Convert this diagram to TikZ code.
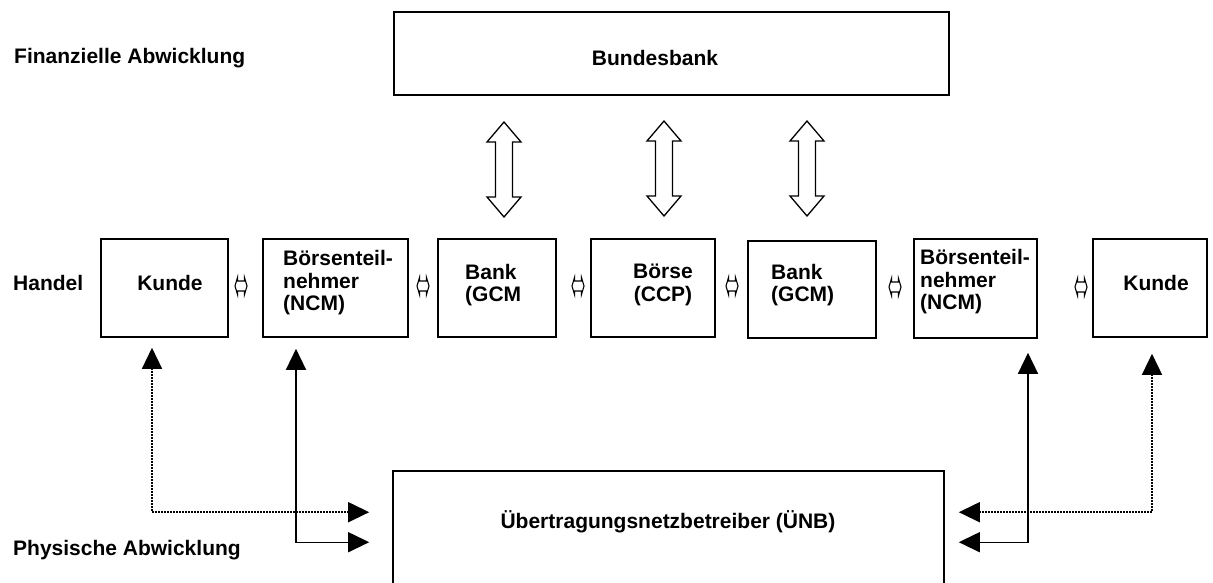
\documentclass[tikz,border=0pt]{standalone}
\usepackage{fontspec}
\setmainfont{Liberation Sans}
\usetikzlibrary{arrows.meta,calc}
\begin{document}
\begin{tikzpicture}[x=1pt,y=-1pt,
  bx/.style={draw, line width=1.6pt, rectangle, inner sep=0pt},
  txt/.style={font=\bfseries\fontsize{21}{22.5}\selectfont, inner sep=0pt, align=left},
  tipA/.tip={Triangle[length=21pt,width=20pt]},
  solln/.style={line width=1.4pt, {tipA}-{tipA}},
  dotln/.style={line width=1.5pt, dash pattern=on 1.5pt off 1.5pt, {tipA}-{tipA}},
  hollowv/.pic={\draw[line width=1.3pt, line join=miter, fill=white]
     (0,-47.5) -- (17,-27.5) -- (8.5,-27.5) -- (8.5,27.5) -- (17,27.5) -- (0,47.5)
     -- (-17,27.5) -- (-8.5,27.5) -- (-8.5,-27.5) -- (-17,-27.5) -- cycle;},
  hollowh/.pic={\draw[line width=1.1pt, line join=miter, fill=white]
     (-6,0) -- (-3.5,-8.5) -- (-3.5,-5) -- (3.5,-5) -- (3.5,-8.5) -- (6,0)
     -- (3.5,8.5) -- (3.5,5) -- (-3.5,5) -- (-3.5,8.5) -- cycle;}
]
\useasboundingbox (0,0) rectangle (1213,582);
\clip (0,0) rectangle (1213,582);
\fill[white] (0,0) rectangle (1213,582);

% side labels
\node[txt, anchor=west] (lfin) at (14,58) {Finanzielle Abwicklung};
\node[txt, anchor=west] (lhan) at (13,283) {Handel};
\node[txt, anchor=west] (lphy) at (13,550) {Physische Abwicklung};

% Bundesbank
\node[bx, minimum width=555, minimum height=83] (bbank) at (671.5,53.5) {};
\node[txt] (bbanktxt) at (655,58) {Bundesbank};

% row of boxes
\node[bx, minimum width=127, minimum height=98] (kunde1) at (164.5,288) {};
\node[bx, minimum width=145, minimum height=98] (bt1) at (335.5,288) {};
\node[bx, minimum width=118, minimum height=98] (bank1) at (497,288) {};
\node[bx, minimum width=124, minimum height=98] (boerse) at (653,288) {};
\node[bx, minimum width=128, minimum height=97] (bank2) at (812,289.5) {};
\node[bx, minimum width=123, minimum height=99] (bt2) at (975.5,288.5) {};
\node[bx, minimum width=114, minimum height=98] (kunde2) at (1150,288) {};

\node[txt] (kunde1txt) at (170,283) {Kunde};
\node[txt, anchor=west] (bt1txt) at (283,283) {Börsenteil-\\nehmer\\(NCM)};
\node[txt, anchor=west] (bank1txt) at (465,285) {Bank\\(GCM};
\node[txt, align=center] (boersetxt) at (663,285) {Börse\\(CCP)};
\node[txt, anchor=west] (bank2txt) at (771,285) {Bank\\(GCM)};
\node[txt, anchor=west] (bt2txt) at (920,282) {Börsenteil-\\nehmer\\(NCM)};
\node[txt] (kunde2txt) at (1156,283) {Kunde};

% small hollow double arrows
\pic at (241,286) {hollowh};
\pic at (423,286) {hollowh};
\pic at (578,286) {hollowh};
\pic at (732,286) {hollowh};
\pic at (895,287) {hollowh};
\pic at (1081,287) {hollowh};

% big hollow double arrows
\pic at (504,169.5) {hollowv};
\pic at (664,168.5) {hollowv};
\pic at (807,168.5) {hollowv};

% UeNB box (cut off at the bottom)
\node[bx, minimum width=551, minimum height=150] (unb) at (668.5,546) {};
\node[txt] (unbtxt) at (668,522) {Übertragungsnetzbetreiber (ÜNB)};

% physical settlement connectors
\draw[dotln] ([xshift=-12.5pt,yshift=-10pt]kunde1.south) |- ([xshift=-23pt,yshift=-42pt]unb.north west);
\draw[dotln] ([xshift=2pt,yshift=-16pt]kunde2.south) |- ([xshift=14pt,yshift=-42pt]unb.north east);
\draw[solln] ([xshift=-39.5pt,yshift=-11pt]bt1.south) |- ([xshift=-23pt,yshift=-72pt]unb.north west);
\draw[solln] ([xshift=52.5pt,yshift=-14pt]bt2.south) |- ([xshift=14pt,yshift=-72pt]unb.north east);
\end{tikzpicture}
\end{document}
